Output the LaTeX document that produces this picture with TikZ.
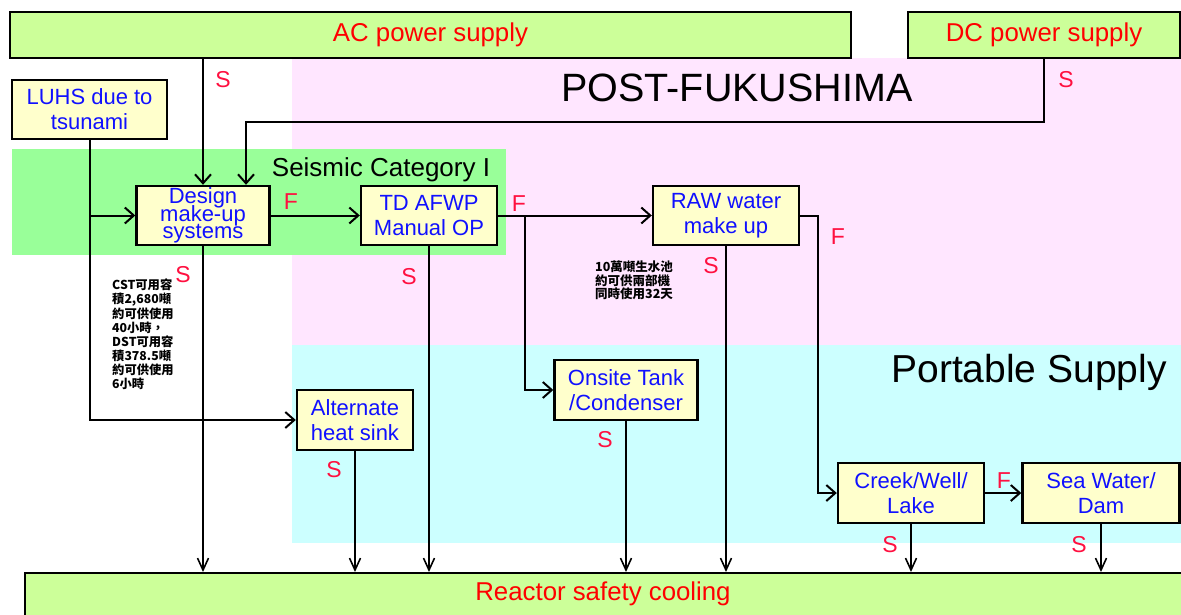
\documentclass[tikz,border=0pt]{standalone}
\usepackage{fontspec}
\setmainfont{Liberation Sans}
\newfontfamily\cjk{Noto Sans CJK TC}
\usetikzlibrary{arrows.meta}
\definecolor{lime}{HTML}{CCFF99}
\definecolor{boxyellow}{HTML}{FFFFCC}
\definecolor{seisgreen}{HTML}{99FF99}
\definecolor{postpink}{HTML}{FFE6FF}
\definecolor{portcyan}{HTML}{CCFFFF}
\definecolor{boxblue}{HTML}{1010FF}
\definecolor{supred}{HTML}{FF0000}
\definecolor{labred}{HTML}{FF1040}
\newcommand{\tightlines}{\lineskiplimit=-50pt\relax}
\tikzset{
  supply/.style={draw=black, line width=2.4pt, fill=lime, text=supred, inner sep=0pt,
    font=\fontsize{25.8}{28}\selectfont},
  unit/.style={draw=black, line width=2.4pt, fill=boxyellow, text=boxblue, inner sep=0pt,
    align=center, font=\fontsize{22}{25}\selectfont},
  lab/.style={text=labred, inner sep=0pt, font=\fontsize{23}{25}\selectfont},
  title/.style={text=black, inner sep=0pt},
  note/.style={inner sep=0pt, align=left, anchor=north west,
    font={\cjk\bfseries\fontsize{12.3}{14.1}\selectfont\tightlines}},
  flow/.style={line width=2pt, -{Straight Barb[length=9pt,width=16pt,line width=2pt]}},
  feed/.style={line width=1.8pt, -{Straight Barb[length=12pt,width=11pt,line width=1.6pt]}}
}
\begin{document}
\begin{tikzpicture}[x=1pt,y=-1pt]
\useasboundingbox (0,0) rectangle (1181,615);
\fill[white] (0,0) rectangle (1181,615);
% background zones
\fill[postpink] (292,58) rectangle (1181,345);
\fill[portcyan] (292,345) rectangle (1181,543);
\fill[seisgreen] (12,149) rectangle (506,255);
\node[title, font=\fontsize{39.5}{42}\selectfont] (post) at (737,88) {POST-FUKUSHIMA};
\node[title, font=\fontsize{39}{42}\selectfont] (port) at (1029,372) {Portable Supply};
\node[title, font=\fontsize{26}{28}\selectfont] (seis) at (381,170) {Seismic Category I};

% supplies
\node[supply, minimum width=841, minimum height=46] (ac) at (430.5,35) {AC power supply};
\node[supply, minimum width=272, minimum height=46] (dc) at (1044,35) {DC power supply};
\node[supply, anchor=north west, minimum width=1180, minimum height=60] (reactor) at (24,572) {};
\node[text=supred, inner sep=0pt, font=\fontsize{25.8}{28}\selectfont] (reactortext) at (603,594) {Reactor safety cooling};

% units
\node[unit, minimum width=155, minimum height=59] (luhs) at (89.5,109.5) {LUHS due to\\tsunami};
\node[unit, minimum width=133, minimum height=59, align=none] (design) at (203,215.5) {\raisebox{-3pt}{\parbox{125pt}{\fontsize{22}{17.8}\selectfont\tightlines\centering Design\\make-up\\systems}}};
\node[unit, minimum width=136, minimum height=59] (td) at (429,215.5) {TD AFWP\\Manual OP};
\node[unit, minimum width=146, minimum height=59] (raw) at (726,215.5) {RAW water\\make up};
\node[unit, minimum width=143, minimum height=60] (onsite) at (626,390) {Onsite Tank\\/Condenser};
\node[unit, minimum width=116, minimum height=60] (alt) at (355,420) {Alternate\\heat sink};
\node[unit, minimum width=146, minimum height=60] (creek) at (911,493) {Creek/Well/\\Lake};
\node[unit, minimum width=157, minimum height=60] (sea) at (1101,493) {Sea Water/\\Dam};

% notes
\node[note] (cstnote) at (112,279) {CST可用容\\積2,680噸\\約可供使用\\40小時，\\DST可用容\\積378.5噸\\約可供使用\\6小時};
\node[note, font={\cjk\bfseries\fontsize{12.5}{13.4}\selectfont\tightlines}] (rawnote) at (595,261) {10萬噸生水池\\約可供兩部機\\同時使用32天};

% connectors
\coordinate (dcturn) at (246,122);
\coordinate (tdbranch) at (525,215.5);
\coordinate (rawturn) at (818,215.5);

\draw[flow] (design.north |- ac.south) -- (design.north);
\draw[flow] (dc.south) |- (dcturn) -- (dcturn |- design.north);
\draw[flow] (luhs.south) |- (alt.west);
\draw[flow] (luhs.south |- design.west) -- (design.west);
\draw[flow] (design.east) -- (td.west);
\draw[flow] (td.east) -- (raw.west);
\draw[flow] (tdbranch) |- (onsite.west);
\draw[flow] (raw.east) -- (rawturn) |- (creek.west);
\draw[flow] (creek.east) -- (sea.west);

\draw[feed] (design.south) -- (design.south |- reactor.north);
\draw[feed] (td.south) -- (td.south |- reactor.north);
\draw[feed] (raw.south) -- (raw.south |- reactor.north);
\draw[feed] (onsite.south) -- (onsite.south |- reactor.north);
\draw[feed] (alt.south) -- (alt.south |- reactor.north);
\draw[feed] (creek.south) -- (creek.south |- reactor.north);
\draw[feed] (sea.south) -- (sea.south |- reactor.north);

% labels
\node[lab] (sac) at (223,80) {S};
\node[lab] (sdc) at (1066,80) {S};
\node[lab] (fdes) at (291,202) {F};
\node[lab] (ftd) at (519,204) {F};
\node[lab] (fraw) at (838,237) {F};
\node[lab] (sdes) at (183,275) {S};
\node[lab] (std) at (409,277) {S};
\node[lab] (sraw) at (711,266) {S};
\node[lab] (sons) at (605,440) {S};
\node[lab] (salt) at (334,470) {S};
\node[lab] (fcreek) at (1004,481) {F};
\node[lab] (screek) at (890,545) {S};
\node[lab] (ssea) at (1079,545) {S};
\end{tikzpicture}
\end{document}
